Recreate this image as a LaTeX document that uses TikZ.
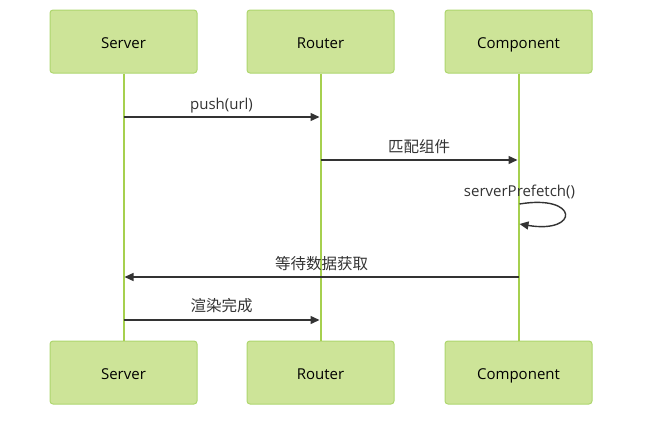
\documentclass[tikz,border=0pt]{standalone}
\usepackage{fontspec}
\setmainfont{Open Sans}
\newfontfamily\cjk{Noto Sans CJK SC}
\usepackage{tikz}
\usetikzlibrary{positioning}
\usetikzlibrary{arrows.meta}
\definecolor{actorfill}{HTML}{CDE498}
\definecolor{actorline}{HTML}{AED66E}
\definecolor{lifeline}{HTML}{A6D04F}
\definecolor{msgline}{HTML}{333333}
\tikzset{>={Triangle[length=9pt,width=8pt]}}
\tikzstyle{actor} = [rectangle, rounded corners=3pt, fill=actorfill, draw=actorline, line width=1pt, minimum width=147pt, minimum height=63pt, text height=14pt, text depth=0pt, font=\fontsize{15}{18}\selectfont, text=black]
\tikzstyle{life} = [draw=lifeline, line width=2pt]
\tikzstyle{msg} = [draw=msgline, line width=1.4pt, ->]
\tikzstyle{lbl} = [above=4pt, inner sep=0pt, font=\fontsize{15}{18}\selectfont, text=msgline]
\tikzstyle{cjklbl} = [above=6pt, inner sep=0pt, font=\cjk\fontsize{15.5}{18}\selectfont, text=msgline]

\begin{document}
\begin{tikzpicture}[x=1pt, y=-1pt]
    \useasboundingbox (0,0) rectangle (651,421);
    %% Actors
    \node [actor] (S) at (123.5,41.5) {Server};
    \node [actor] (R) at (320.5,41.5) {Router};
    \node [actor] (C) at (518.5,41.5) {Component};
    \node [actor] (S2) at (123.5,372.5) {Server};
    \node [actor] (R2) at (320.5,372.5) {Router};
    \node [actor] (C2) at (518.5,372.5) {Component};
    %% Lifelines
    \path [life] (S) -- (S2);
    \path [life] (R) -- (R2);
    \path [life] (C) -- (C2);
    %% Message points
    \coordinate (s1) at (123.5,117);
    \coordinate (r1) at (319.5,117);
    \coordinate (r2) at (320.5,160);
    \coordinate (c2) at (517.5,160);
    \coordinate (c3) at (519.5,204);
    \coordinate (c3b) at (519.5,224);
    \coordinate (c4) at (518.5,277);
    \coordinate (s4) at (124.5,277);
    \coordinate (s5) at (123.5,320);
    \coordinate (r5) at (319.5,320);
    %% Flows
    \path [msg] (s1) to node [lbl, above=3pt] {push(url)} (r1);
    \path [msg] (r2) to node [cjklbl] {匹配组件} (c2);
    \path [msg] (c3) .. controls +(60,-10) and +(60,10) .. (c3b);
    \node [lbl, above=5pt] at (c3) {serverPrefetch()};
    \path [msg] (c4) to node [cjklbl] {等待数据获取} (s4);
    \path [msg] (s5) to node [cjklbl] {渲染完成} (r5);
  \end{tikzpicture}
\end{document}
